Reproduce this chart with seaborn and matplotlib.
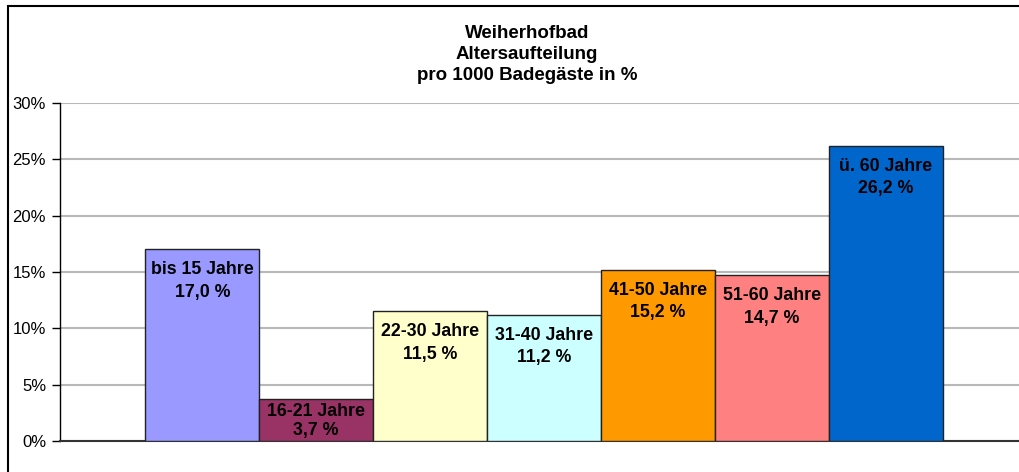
import matplotlib
matplotlib.use("Agg")
import matplotlib.pyplot as plt
import seaborn as sns
import pandas as pd
from matplotlib.patches import Rectangle

categories = ["bis 15 Jahre", "16-21 Jahre", "22-30 Jahre", "31-40 Jahre",
              "41-50 Jahre", "51-60 Jahre", "ü. 60 Jahre"]
values = [17.0, 3.7, 11.5, 11.2, 15.2, 14.7, 26.2]
colors = ["#9999FF", "#993366", "#FFFFCC", "#CCFFFF", "#FF9900", "#FF8080", "#0066CC"]
yticks = [0, 5, 10, 15, 20, 25, 30]
title_lines = ["Weiherhofbad", "Altersaufteilung", "pro 1000 Badegäste in %"]

sns.set_theme(style="white")
plt.rcParams["font.family"] = ["Liberation Sans", "DejaVu Sans"]

W, H = 1019, 472
fig = plt.figure(figsize=(W / 100, H / 100), dpi=100)
ax_left, ax_right = 60, 1028
ax_bottom, ax_top = 441, 103
ax = fig.add_axes([ax_left / W, (H - ax_bottom) / H,
                   (ax_right - ax_left) / W, (ax_bottom - ax_top) / H])

df = pd.DataFrame({"cat": categories, "val": values})
sns.barplot(data=df, x="cat", y="val", hue="cat", palette=colors, order=categories,
            hue_order=categories, width=1.0, edgecolor="#222222", linewidth=1.0,
            saturation=1.0, legend=False, ax=ax, zorder=3)

ax.set_xlim(-1.25, 7.25)
ax.set_ylim(0, 30)
ax.set_yticks(yticks)
ax.set_yticklabels([f"{v}%" for v in yticks], fontsize=12, color="black")
ax.set_xticks([])
ax.set_xlabel("")
ax.set_ylabel("")
ax.yaxis.grid(True, color="#b8b8b8", linewidth=1.5, zorder=0)
ax.set_axisbelow(True)
ax.tick_params(axis="y", direction="out", length=6, width=1, color="black", pad=4, left=True)
for s in ["top", "right"]:
    ax.spines[s].set_visible(False)
ax.spines["left"].set_color("black")
ax.spines["left"].set_linewidth(1.0)
ax.spines["bottom"].set_color("#333333")
ax.spines["bottom"].set_linewidth(1.5)

px_per_unit = (ax_bottom - ax_top) / 30.0
for i, (c, v) in enumerate(zip(categories, values)):
    bar_px = v * px_per_unit
    if bar_px > 60:
        off, ls = -8.5, 1.45
    else:
        off, ls = -3, 1.15
    num = f"{v:.1f}".replace(".", ",")
    ax.annotate(f"{c}\n{num} %", xy=(i, v), xytext=(0, off),
                textcoords="offset points", ha="center", va="top",
                fontsize=12.8, fontweight="bold", color="black",
                linespacing=ls, zorder=5)

fig.text(527 / W, 1 - 25 / H, "\n".join(title_lines), ha="center", va="top",
         fontsize=13.5, fontweight="bold", color="black", linespacing=1.3)

# outer chart frame (right/bottom edges lie outside the picture)
fig.patches.append(Rectangle((8 / W, -0.05), 1.2, 1 - 6 / H + 0.05,
                             transform=fig.transFigure, fill=False,
                             edgecolor="black", linewidth=1.5))

fig.savefig("out.png", dpi=100)
